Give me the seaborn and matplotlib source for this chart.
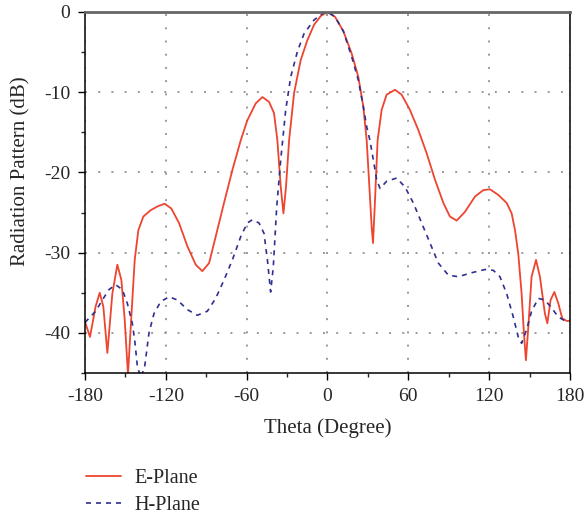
import numpy as np
import matplotlib
matplotlib.use("Agg")
import matplotlib.pyplot as plt
import seaborn as sns

# ---- data ----
e_theta = [-180, -176.3, -172.1, -169.1, -166.4, -163.4, -159.7, -156, -153, -150.5,
           -148.1, -145.6, -143.1, -140.4, -136.7, -131.2, -125.8, -120.8, -115.9, -110.2,
           -104, -97.8, -92.9, -87.9, -83, -76.8, -70.6, -64.4, -59.5, -53.3,
           -48.3, -43.4, -39.7, -37.2, -34.7, -32.7, -30.8, -28.5, -24.8, -19.9,
           -14.9, -10, -5, 0, 5.6, 11.8, 18, 22.9, 26.6, 29.1,
           31.1, 32.8, 33.8, 35.3, 37.2, 40.2, 43.9, 50.1, 55, 61.2,
           67.4, 73.6, 79.8, 86, 90.9, 95.9, 102.1, 109.5, 115.7, 120.6,
           126.8, 133, 136.7, 139.2, 141.6, 144.1, 145.8, 147.3, 149.1, 151.5,
           154.8, 157.7, 161.4, 163.2, 165.6, 168.4, 171.3, 174.3, 177.5, 180]
e_db = [-38.6, -40.5, -36.7, -35.0, -36.7, -42.5, -35.1, -31.5, -33.4, -38.4,
        -45.2, -38.0, -30.9, -27.2, -25.5, -24.7, -24.2, -23.9, -24.5, -26.3,
        -29.2, -31.5, -32.3, -31.3, -28.0, -23.8, -19.7, -16.0, -13.5, -11.4,
        -10.6, -11.2, -12.6, -16.0, -21.8, -25.1, -21.8, -16.0, -10.1, -6.0,
        -3.5, -1.6, -0.5, 0.0, -0.6, -2.4, -5.2, -8.1, -11.8, -16.0,
        -21.8, -26.8, -28.8, -23.4, -16.0, -12.2, -10.3, -9.7, -10.3, -12.2,
        -14.7, -17.6, -20.9, -23.8, -25.5, -26.0, -24.9, -23.0, -22.2, -22.1,
        -22.8, -23.8, -25.1, -27.2, -30.1, -35.1, -40.0, -43.4, -39.2, -33.0,
        -30.9, -33.0, -37.6, -38.8, -35.9, -34.9, -36.3, -38.2, -38.5, -38.5]

h_theta = [-180, -172.1, -167.1, -162.2, -157.2, -152.3, -148.6, -144.9, -143.1, -141.1,
           -138.5, -135.7, -132.5, -128.8, -123.8, -117.6, -111.4, -104, -96.6, -89.2,
           -83, -76.8, -70.6, -64.4, -59.5, -55.8, -50.8, -47.1, -44.6, -42.2,
           -40.2, -37.7, -34.7, -31, -27.3, -22.3, -17.4, -10, -3.8, 0,
           5.6, 11.8, 18, 22.9, 26.6, 29.1, 31.5, 34, 36.5, 39,
           43.9, 51.3, 57.5, 63.7, 69.9, 76.1, 82.3, 89.7, 97.1, 107,
           116.9, 123.1, 128, 133, 137.9, 141.6, 144.1, 147.8, 151.5, 156.5,
           161.4, 166.4, 171.3, 176.3, 180]
h_db = [-38.7, -37.3, -35.9, -34.6, -34.0, -34.6, -36.3, -38.8, -40.9, -44.2,
        -45.6, -44.2, -40.0, -37.6, -36.1, -35.5, -35.9, -37.1, -37.8, -37.3,
        -35.7, -33.4, -30.9, -28.0, -26.3, -25.9, -26.3, -27.6, -30.9, -34.9,
        -31.7, -24.3, -18.4, -12.2, -8.1, -4.9, -2.7, -1.0, -0.2, 0.0,
        -0.6, -2.4, -5.6, -8.5, -11.8, -14.3, -16.0, -18.4, -20.9, -22.0,
        -21.1, -20.7, -21.8, -23.8, -26.3, -28.8, -31.3, -32.8, -33.0, -32.5,
        -32.1, -32.2, -33.0, -35.1, -38.0, -40.5, -41.3, -39.6, -37.3, -35.7,
        -35.9, -36.9, -38.0, -38.5, -38.5]

x_ticks = [-180, -120, -60, 0, 60, 120, 180]
y_ticks = [-40, -30, -20, -10, 0]
labels = ["E-Plane", "H-Plane"]

# ---- style ----
sns.set_theme(style="white")
plt.rcParams["font.family"] = ["Liberation Serif", "DejaVu Serif"]
plt.rcParams["axes.unicode_minus"] = False

fig = plt.figure(figsize=(5.87, 5.17), dpi=100)
ax = fig.add_axes([0.1448, 0.2785, 0.971 - 0.1448, 0.9768 - 0.2785])

red = "#EE4430"
blue = "#2F2F90"

sns.lineplot(x=e_theta, y=e_db, ax=ax, color=red, lw=1.3, sort=False,
             estimator=None, label=labels[0])
sns.lineplot(x=h_theta, y=h_db, ax=ax, color=blue, lw=1.2, sort=False,
             estimator=None, label=labels[1], linestyle=(0, (3, 3)))

ax.set_xlim(-180, 180)
ax.set_ylim(-45, 0)
ax.set_xticks(x_ticks)
ax.set_yticks(y_ticks)
ax.set_xticks(np.arange(-180, 181, 30), minor=True)
ax.set_yticks(np.arange(-45, 1, 5), minor=True)
ax.tick_params(axis="both", which="major", direction="out", length=5, width=1,
               labelsize=14, color="black", bottom=True, left=True, pad=5.5)
ax.tick_params(axis="both", which="minor", direction="out", length=3.2, width=1,
               bottom=True, left=True)

ax.grid(True, which="major", linestyle=(0, (1, 5.8)), linewidth=1.4, color="#999999")
for s in ["left", "bottom", "right"]:
    ax.spines[s].set_color("black")
    ax.spines[s].set_linewidth(1.1)
ax.spines["top"].set_color("#666666")
ax.spines["top"].set_linewidth(2)

ax.set_xlabel("Theta (Degree)", fontsize=15)
ax.set_ylabel("Radiation Pattern (dB)", fontsize=15)
ax.xaxis.set_label_coords(0.5, -0.1247)
ax.yaxis.set_label_coords(-0.113, 0.558)

ax.legend(loc="upper left", bbox_to_anchor=(0.1329, 0.108), bbox_transform=fig.transFigure,
          frameon=False, fontsize=14.5, handlelength=1.74, handletextpad=0.65,
          labelspacing=0.4, borderaxespad=0)

fig.savefig("out.png", dpi=100)
